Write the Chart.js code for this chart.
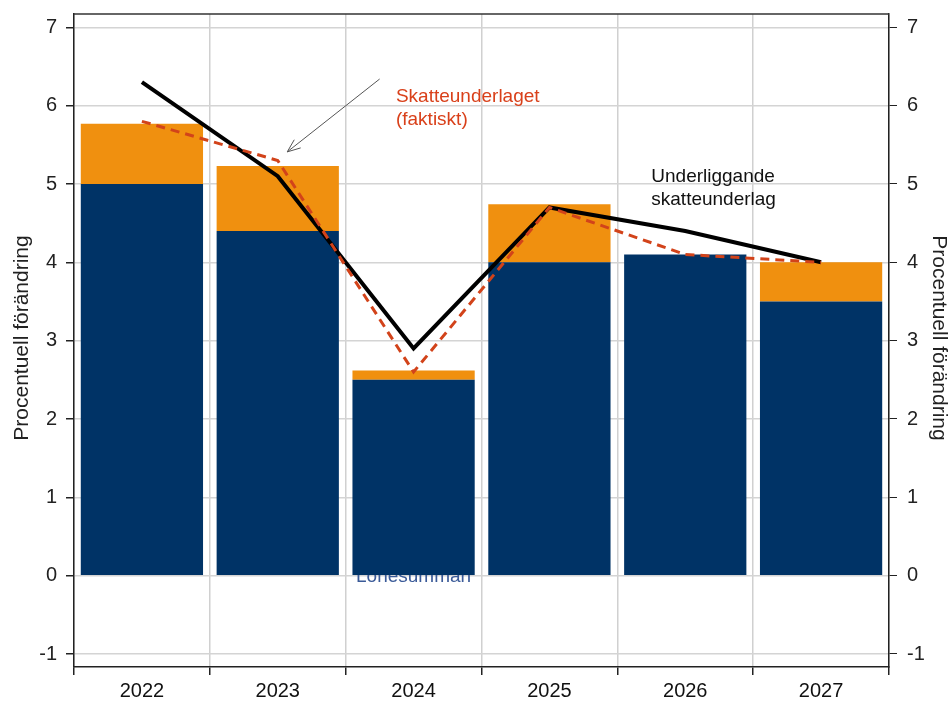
<!DOCTYPE html>
<html>
<head>
    <meta charset="utf-8">
    <script src="https://cdn.jsdelivr.net/npm/chart.js@4.4.0/dist/chart.umd.min.js"></script>
    <style>
        html, body { margin: 0; padding: 0; background: #fff; }
        #wrap { width: 950px; height: 702px; }
    </style>
</head>
<body>
    <div id="wrap"><canvas id="chart"></canvas></div>
    <script>
        const years = ["2022", "2023", "2024", "2025", "2026", "2027"];
        const lonesumman = [5.0, 4.4, 2.5, 4.0, 4.1, 3.5];
        const ovrigt = [0.77, 0.83, 0.12, 0.74, 0, 0.5];
        const underliggande = [6.3, 5.1, 2.9, 4.7, 4.4, 4.0];
        const faktiskt = [5.8, 5.3, 2.6, 4.7, 4.1, 4.0];
        const yTicks = [-1, 0, 1, 2, 3, 4, 5, 6, 7];

        const FONT = "'Liberation Sans', Arial, sans-serif";

        function setTicks(scale) {
            scale.ticks = yTicks.map(v => ({ value: v }));
        }

        const notes = {
            id: 'notes',
            beforeDatasetsDraw(chart) {
                const ctx = chart.ctx, x = chart.scales.x, y = chart.scales.y;
                ctx.save();
                ctx.font = "19px " + FONT;
                ctx.fillStyle = "#3a5a98";
                ctx.textAlign = "center";
                ctx.textBaseline = "alphabetic";
                ctx.fillText("Lönesumman", x.getPixelForValue(2), y.getPixelForValue(0) + 6);
                ctx.restore();
            },
            afterDraw(chart) {
                const ctx = chart.ctx, x = chart.scales.x, y = chart.scales.y;
                const a = chart.chartArea;
                ctx.save();
                // frame top
                ctx.strokeStyle = "#333";
                ctx.lineWidth = 1.5;
                ctx.beginPath();
                ctx.moveTo(a.left, a.top);
                ctx.lineTo(a.right, a.top);
                ctx.stroke();

                // annotations
                ctx.font = "19px " + FONT;
                ctx.textAlign = "left";
                ctx.textBaseline = "middle";
                ctx.fillStyle = "#d9401a";
                ctx.fillText("Skatteunderlaget", x.getPixelForValue(1.87), y.getPixelForValue(6.11));
                ctx.fillText("(faktiskt)", x.getPixelForValue(1.87), y.getPixelForValue(5.82));
                ctx.fillStyle = "#111";
                ctx.fillText("Underliggande", x.getPixelForValue(3.75), y.getPixelForValue(5.09));
                ctx.fillText("skatteunderlag", x.getPixelForValue(3.75), y.getPixelForValue(4.80));

                // arrow
                const x1 = x.getPixelForValue(1.75), y1 = y.getPixelForValue(6.34);
                const x2 = x.getPixelForValue(1.07), y2 = y.getPixelForValue(5.41);
                const ang = Math.atan2(y2 - y1, x2 - x1);
                ctx.strokeStyle = "#555";
                ctx.lineWidth = 1;
                ctx.beginPath();
                ctx.moveTo(x1, y1);
                ctx.lineTo(x2, y2);
                ctx.moveTo(x2 - 14 * Math.cos(ang - 0.38), y2 - 14 * Math.sin(ang - 0.38));
                ctx.lineTo(x2, y2);
                ctx.lineTo(x2 - 14 * Math.cos(ang + 0.38), y2 - 14 * Math.sin(ang + 0.38));
                ctx.stroke();

                // axis titles
                ctx.font = "21px " + FONT;
                ctx.fillStyle = "#222";
                ctx.textAlign = "center";
                ctx.textBaseline = "middle";
                const mid = 338;
                ctx.save();
                ctx.translate(22, mid);
                ctx.rotate(-Math.PI / 2);
                ctx.fillText("Procentuell förändring", 0, 0);
                ctx.restore();
                ctx.save();
                ctx.translate(939, mid);
                ctx.rotate(Math.PI / 2);
                ctx.fillText("Procentuell förändring", 0, 0);
                ctx.restore();
                ctx.restore();
            }
        };

        const tickFont = { family: FONT, size: 20 };

        new Chart(document.getElementById("chart"), {
            data: {
                labels: years,
                datasets: [
                    {
                        type: "line",
                        label: "Skatteunderlaget (faktiskt)",
                        data: faktiskt,
                        borderColor: "#d2431a",
                        borderWidth: 3,
                        borderDash: [9, 6],
                        pointRadius: 0,
                        tension: 0,
                        stack: "l1",
                        order: 0
                    },
                    {
                        type: "line",
                        label: "Underliggande skatteunderlag",
                        data: underliggande,
                        borderColor: "#000",
                        borderWidth: 4,
                        pointRadius: 0,
                        tension: 0,
                        stack: "l2",
                        order: 1
                    },
                    {
                        type: "bar",
                        label: "Lönesumman",
                        data: lonesumman,
                        backgroundColor: "#003366",
                        barPercentage: 0.9,
                        categoryPercentage: 1,
                        stack: "bars",
                        order: 2
                    },
                    {
                        type: "bar",
                        label: "Övrigt",
                        data: ovrigt,
                        backgroundColor: "#f0900f",
                        barPercentage: 0.9,
                        categoryPercentage: 1,
                        stack: "bars",
                        order: 2
                    }
                ]
            },
            options: {
                responsive: true,
                maintainAspectRatio: false,
                animation: false,
                layout: { padding: { top: 14, left: 0, right: 0, bottom: 0 } },
                plugins: {
                    legend: { display: false },
                    tooltip: { enabled: false }
                },
                scales: {
                    x: {
                        offset: true,
                        grid: {
                            offset: true,
                            color: "#d0d0d0",
                            lineWidth: 1.5,
                            tickLength: 8,
                            tickColor: "#222"
                        },
                        border: { color: "#222", width: 1.5 },
                        ticks: { font: tickFont, color: "#111", padding: 4 },
                        afterFit(s) { s.height = 35; }
                    },
                    y: {
                        position: "left",
                        stacked: true,
                        min: -1.166,
                        max: 7.17,
                        ticks: { font: tickFont, color: "#222", padding: 9 },
                        grid: { color: "#d4d4d4", lineWidth: 1.5, tickLength: 8, tickColor: "#222" },
                        border: { color: "#222", width: 1.5 },
                        afterBuildTicks: setTicks,
                        afterFit(s) { s.width = 74; s.paddingTop = 0; s.paddingBottom = 0; }
                    },
                    y2: {
                        position: "right",
                        min: -1.166,
                        max: 7.17,
                        ticks: { font: tickFont, color: "#222", padding: 10 },
                        grid: { drawOnChartArea: false, tickLength: 8, tickColor: "#222" },
                        border: { color: "#222", width: 1.5 },
                        afterBuildTicks: setTicks,
                        afterFit(s) { s.width = 61; s.paddingTop = 0; s.paddingBottom = 0; }
                    }
                }
            },
            plugins: [notes]
        });
    </script>
</body>
</html>
